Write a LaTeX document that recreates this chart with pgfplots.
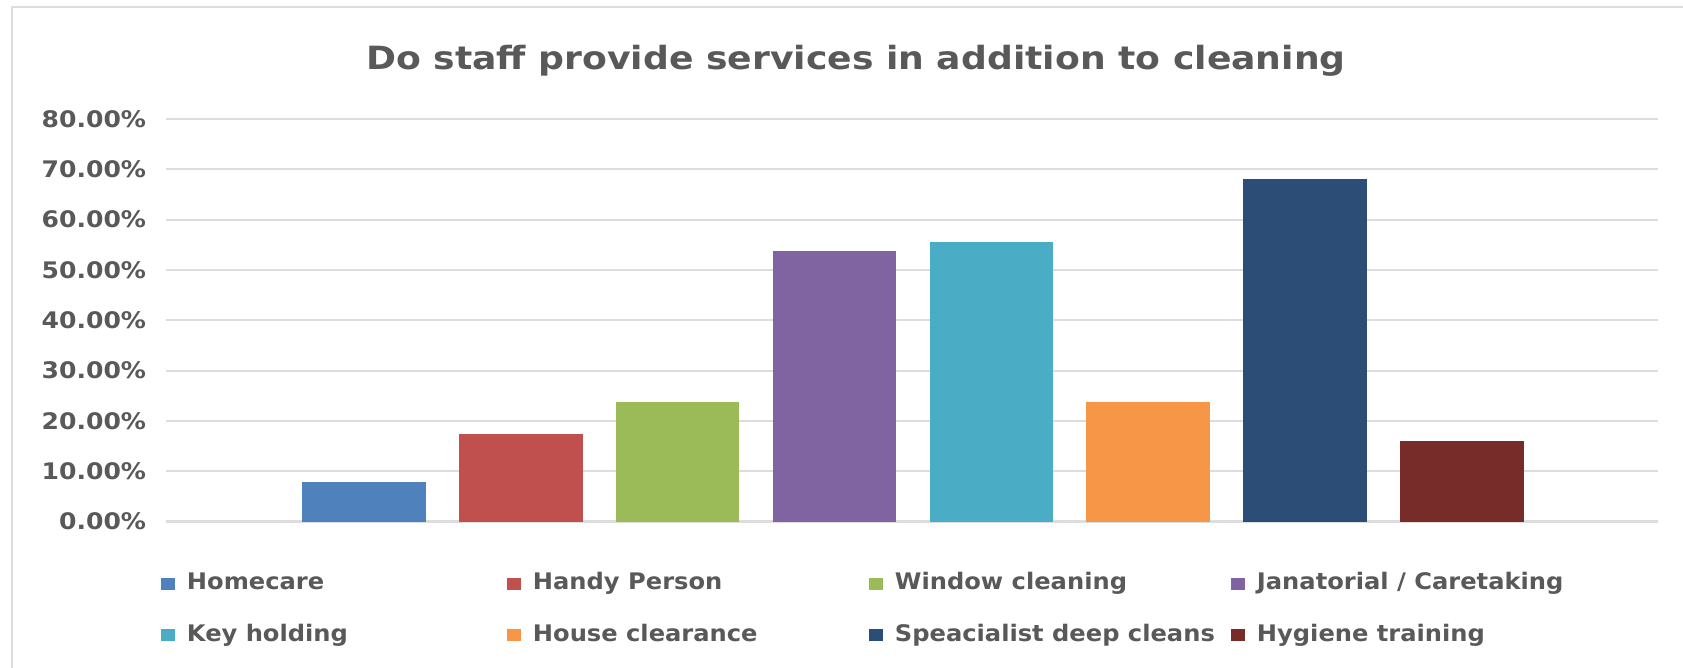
\documentclass[border=0pt]{standalone}
\usepackage{pgfplots}
\pgfplotsset{compat=1.18}
\usepackage{fontspec}
\newfontfamily\titlefont{DejaVu Sans}[FakeStretch=1.13]
\newfontfamily\labfont{DejaVu Sans}[FakeStretch=1.1]
\newfontfamily\legfont{DejaVu Sans}[FakeStretch=1.06]
\definecolor{txt}{HTML}{595959}
\definecolor{gridc}{HTML}{DDDDDD}
\definecolor{c1}{HTML}{4F81BD}
\definecolor{c2}{HTML}{C0504D}
\definecolor{c3}{HTML}{9BBB59}
\definecolor{c4}{HTML}{8064A2}
\definecolor{c5}{HTML}{4BACC6}
\definecolor{c6}{HTML}{F79646}
\definecolor{c7}{HTML}{2C4D75}
\definecolor{c8}{HTML}{772C2A}
\begin{document}
\begin{tikzpicture}
\path[use as bounding box] (0,0) rectangle (841.5pt,334pt);
\draw[gridc,line width=1pt] (6pt,0) -- (6pt,330.5pt) -- (841.5pt,330.5pt);
\node[anchor=base,text=txt,inner sep=0pt] at (428pt,299pt) {\titlefont\bfseries\fontsize{16}{19}\selectfont Do staff provide services in addition to cleaning};
\begin{axis}[
  at={(83.25pt,73.2pt)}, anchor=south west,
  scale only axis, width=745.75pt, height=201.3pt,
  xmin=-1.259, xmax=8.251, ymin=0, ymax=80,
  axis line style={draw=none},
  xtick=\empty,
  ytick={0,10,...,80},
  major tick length=0pt,
  ymajorgrids, grid style={gridc,line width=1.1pt},
  /pgf/number format/assume math mode=true,
  yticklabel={\labfont\bfseries\fontsize{11.4}{13}\selectfont\pgfmathprintnumber[fixed,fixed zerofill,precision=2]{\tick}\%},
  yticklabel style={text=txt,anchor=east,inner sep=0pt,xshift=-10pt},
  legend columns=4,
  legend image code/.code={\fill[#1,draw=none] (0pt,-3pt) rectangle (7pt,3pt); \path (13pt,0pt);},
  legend cell align=left,
  legend style={at={(rel axis cs:-0.004,-0.124)}, anchor=north west, draw=none, fill=none,
    inner sep=0pt, column sep=0pt, row sep=13.7pt,
    font=\legfont\bfseries\fontsize{11.4}{13}\selectfont, text=txt,
    nodes={inner sep=0pt, text height=9pt, text depth=3pt}},
]
\addplot[ybar, bar width=0.787, bar shift=0pt, fill=c1, draw=none] coordinates {(0,7.9)};
\addlegendentry{\makebox[160pt][l]{Homecare}}
\addplot[ybar, bar width=0.787, bar shift=0pt, fill=c2, draw=none] coordinates {(1,17.4)};
\addlegendentry{\makebox[168pt][l]{Handy Person}}
\addplot[ybar, bar width=0.787, bar shift=0pt, fill=c3, draw=none] coordinates {(2,23.8)};
\addlegendentry{\makebox[168pt][l]{Window cleaning}}
\addplot[ybar, bar width=0.787, bar shift=0pt, fill=c4, draw=none] coordinates {(3,53.8)};
\addlegendentry{Janatorial / Caretaking}
\addplot[ybar, bar width=0.787, bar shift=0pt, fill=c5, draw=none] coordinates {(4,55.6)};
\addlegendentry{\makebox[160pt][l]{Key holding}}
\addplot[ybar, bar width=0.787, bar shift=0pt, fill=c6, draw=none] coordinates {(5,23.8)};
\addlegendentry{\makebox[168pt][l]{House clearance}}
\addplot[ybar, bar width=0.787, bar shift=0pt, fill=c7, draw=none] coordinates {(6,68.1)};
\addlegendentry{\makebox[168pt][l]{Speacialist deep cleans}}
\addplot[ybar, bar width=0.787, bar shift=0pt, fill=c8, draw=none] coordinates {(7,16.0)};
\addlegendentry{Hygiene training}
\end{axis}
\end{tikzpicture}
\end{document}
